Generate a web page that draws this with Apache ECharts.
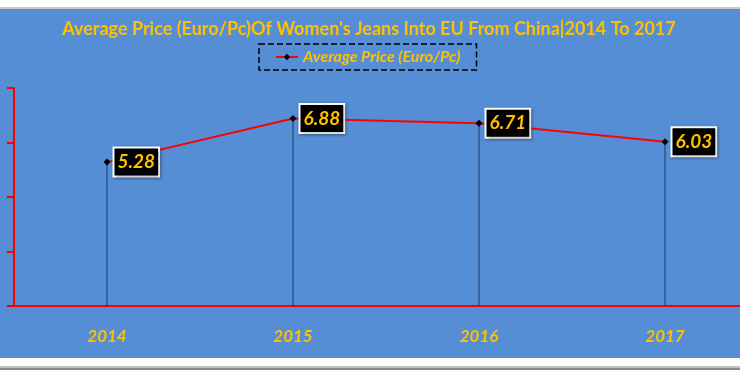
<!DOCTYPE html>
<html>
<head>
<meta charset="utf-8">
<script src="https://cdn.jsdelivr.net/npm/echarts@6/dist/echarts.min.js"></script>
<style>html,body{margin:0;padding:0;background:#fff;overflow:hidden;width:740px;height:370px}#c{width:758px;height:370px}</style>
</head>
<body>
<div id="c"></div>
<script>
const categories = ['2014', '2015', '2016', '2017'];
const priceValues = [5.28, 6.88, 6.71, 6.03];
const yTicks = [0, 2, 4, 6, 8];
const seriesName = 'Average Price (Euro/Pc)';
const titleText = "Average Price (Euro/Pc)Of Women's Jeans Into EU From China|2014 To 2017";

const chart = echarts.init(document.getElementById('c'), null, {renderer: 'canvas'});
const yellow = '#FFC000';
const font = 'Lato';
chart.setOption({
  backgroundColor: '#ffffff',
  animation: false,
  graphic: [
    {type: 'rect', shape: {x: 0, y: 9, width: 758, height: 349}, style: {fill: '#558ED5'}, z: -10, silent: true},
    {type: 'rect', shape: {x: 0, y: 7, width: 758, height: 2}, style: {fill: '#c8c8c8'}, z: -10, silent: true},
    {type: 'rect', shape: {x: 0, y: 366, width: 758, height: 2}, style: {fill: '#c0c0c0'}, z: -10, silent: true},
    {type: 'rect', shape: {x: 0, y: 368, width: 758, height: 2}, style: {fill: '#8a8a8a'}, z: -10, silent: true}
  ],
  title: {
    text: titleText,
    left: 364,
    textAlign: 'center',
    top: 15,
    textStyle: {color: yellow, fontFamily: font, fontWeight: 'bold', fontSize: 18}
  },
  legend: {
    data: [seriesName],
    top: 44,
    left: 259,
    padding: [5, 16, 5, 16],
    borderColor: '#000',
    borderWidth: 1.5,
    borderType: 'dashed',
    itemWidth: 22,
    itemHeight: 8,
    textStyle: {color: yellow, fontFamily: font, fontWeight: 'bold', fontStyle: 'italic', fontSize: 16}
  },
  grid: {left: 14, right: 0, top: 88, bottom: 64, containLabel: false},
  xAxis: {
    type: 'category',
    data: categories,
    boundaryGap: true,
    axisLine: {lineStyle: {color: '#FF0000', width: 2}},
    axisTick: {show: false},
    axisLabel: {color: yellow, fontFamily: font, fontWeight: 'bold', fontStyle: 'italic', fontSize: 17, margin: 22}
  },
  yAxis: {
    type: 'value',
    min: yTicks[0],
    max: yTicks[yTicks.length - 1],
    interval: 2,
    axisLine: {show: true, lineStyle: {color: '#FF0000', width: 2}},
    axisTick: {show: true, length: 7, lineStyle: {color: '#FF0000', width: 2}},
    axisLabel: {show: false},
    splitLine: {show: false}
  },
  series: [
    {
      name: 'drop',
      type: 'bar',
      data: priceValues,
      barWidth: 1,
      itemStyle: {color: '#1F3864'},
      silent: true,
      z: 1
    },
    {
      name: seriesName,
      type: 'line',
      data: priceValues,
      symbol: 'diamond',
      symbolSize: 7,
      itemStyle: {color: '#000000'},
      lineStyle: {color: '#FF0000', width: 2},
      z: 3,
      label: {
        show: true,
        position: 'right',
        distance: 4,
        color: yellow,
        fontFamily: font,
        fontWeight: 'bold',
        fontStyle: 'italic',
        fontSize: 19,
        backgroundColor: '#000000',
        borderColor: '#ffffff',
        borderWidth: 2,
        padding: [5, 3, 3, 3],
        shadowColor: 'rgba(0,0,0,0.4)',
        shadowBlur: 3,
        shadowOffsetX: 1,
        shadowOffsetY: 1
      }
    }
  ]
});
</script>
</body>
</html>
